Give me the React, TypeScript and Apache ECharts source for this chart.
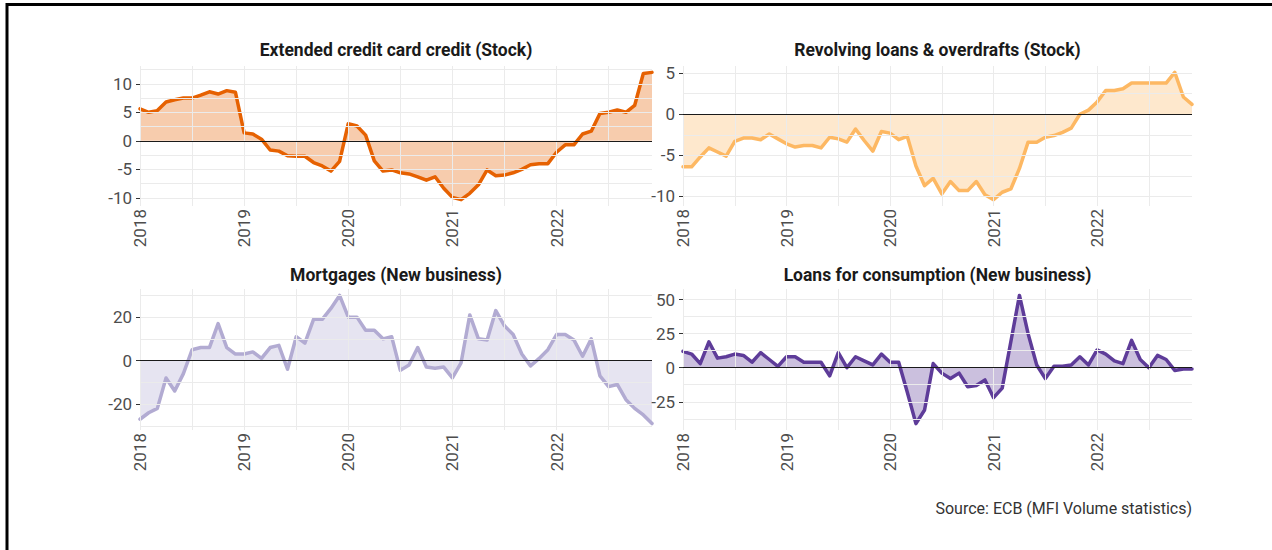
import React, { useEffect, useRef } from "react";
import * as echarts from "echarts";

// Monthly observations, Jan 2018 .. Dec 2022 (index 0 = Jan 2018)
const yearTicks = [0, 12, 24, 36, 48];
const yearLabels = ["2018", "2019", "2020", "2021", "2022"];
const halfYearLines = [6, 18, 30, 42, 54];

const creditCard = [
  5.6, 5.0, 5.3, 6.8, 7.2, 7.5, 7.5, 8.0, 8.6, 8.2, 8.8, 8.5,
  1.4, 1.2, 0.3, -1.6, -1.8, -2.6, -2.7, -2.7, -3.8, -4.4, -5.3, -3.6,
  3.0, 2.6, 1.0, -3.5, -5.3, -5.1, -5.6, -5.8, -6.3, -6.9, -6.3, -8.3,
  -9.9, -10.3, -9.2, -7.7, -5.1, -6.1, -6.0, -5.6, -5.0, -4.2, -4.0, -4.0,
  -2.0, -0.7, -0.7, 1.2, 1.7, 4.8, 5.0, 5.4, 5.0, 6.2, 11.8, 12.0,
];
const revolving = [
  -6.4, -6.4, -5.2, -4.1, -4.6, -5.1, -3.3, -2.9, -2.9, -3.1, -2.4, -3.0,
  -3.6, -4.0, -3.8, -3.8, -4.1, -2.8, -3.0, -3.4, -1.8, -3.2, -4.5, -2.1,
  -2.3, -3.1, -2.7, -6.3, -8.7, -7.8, -9.7, -8.2, -9.3, -9.3, -8.2, -9.8,
  -10.4, -9.5, -9.1, -6.6, -3.4, -3.4, -2.8, -2.6, -2.2, -1.7, 0.0, 0.5,
  1.5, 2.9, 2.9, 3.1, 3.8, 3.8, 3.8, 3.8, 3.8, 5.1, 2.1, 1.2,
];
const mortgages = [
  -27, -24, -22, -8, -14, -6, 5, 6, 6, 17, 6, 3,
  3, 4, 1, 6, 7, -4, 11, 8, 19, 19, 24, 30,
  20, 20, 14, 14, 10, 11, -4.5, -2, 6, -3, -3.5, -3,
  -8, -1, 21, 10, 9.5, 23, 16, 12, 3, -2.5, 1, 5,
  12, 12, 9.5, 2, 10, -7, -12, -11, -18, -22, -25, -29,
];
const consumption = [
  12, 10, 3, 19, 7, 8, 10, 9, 4, 11, 6, 1,
  8, 8, 4, 4, 4, -6, 11, 0, 8, 5, 2, 10,
  4, 4, -18, -41, -31, 3, -4, -8, -4, -14, -13, -9,
  -22, -15, 19, 53, 25, 2, -8, 1, 1, 2, 8, 2,
  13, 10, 5, 3, 20, 6, 0, 9, 6, -2, -1, -1,
];

const titles = [
  "Extended credit card credit (Stock)",
  "Revolving loans & overdrafts (Stock)",
  "Mortgages (New business)",
  "Loans for consumption (New business)",
];
const colors = ["#e66101", "#fdb863", "#b2abd2", "#5e3c99"];
const seriesList = [creditCard, revolving, mortgages, consumption];
const yMajor = [
  [-10, -5, 0, 5, 10],
  [-10, -5, 0, 5],
  [-20, 0, 20],
  [-25, 0, 25, 50],
];
const yMinor = [
  [-7.5, -2.5, 2.5, 7.5, 12.5],
  [-7.5, -2.5, 2.5],
  [-30, -10, 10, 30],
  [-37.5, -12.5, 12.5, 37.5],
];
const sourceText = "Source: ECB (MFI Volume statistics)";

const FONT = "Roboto, 'Noto Sans', sans-serif";

export default function App() {
  const ref = useRef<HTMLDivElement>(null);
  useEffect(() => {
    if (!ref.current) return;
    const chart = echarts.init(ref.current, null, { renderer: "svg" });

    const grids = [
      { left: 140, top: 66, width: 512, height: 140 },
      { left: 683, top: 66, width: 509, height: 140 },
      { left: 140, top: 289, width: 512, height: 141 },
      { left: 683, top: 289, width: 509, height: 141 },
    ];

    const xAxes = grids.map((_, i) => ({
      type: "value",
      gridIndex: i,
      min: 0,
      max: 59,
      splitLine: { show: false },
      axisLine: { show: false },
      axisTick: {
        show: true,
        customValues: yearTicks,
        length: 4,
        lineStyle: { color: "#333", width: 1 },
      },
      axisLabel: {
        customValues: yearTicks,
        formatter: (v: number) => {
          const k = yearTicks.indexOf(Math.round(v));
          return k >= 0 ? yearLabels[k] : "";
        },
        rotate: 90,
        margin: 3,
        fontSize: 17,
        color: "#4d4d4d",
        fontFamily: FONT,
      },
    }));

    const yAxes = grids.map((_, i) => {
      const d = seriesList[i];
      const lo = Math.min(...d);
      const hi = Math.max(...d);
      const pad = (hi - lo) * 0.05;
      return {
        type: "value",
        gridIndex: i,
        min: lo - pad,
        max: hi + pad,
        splitLine: { show: false },
        axisLine: { show: false },
        axisTick: {
          show: true,
          customValues: yMajor[i],
          length: 4,
          lineStyle: { color: "#333", width: 1 },
        },
        axisLabel: {
          customValues: yMajor[i],
          formatter: (v: number) => String(v),
          margin: 8,
          fontSize: 17,
          color: "#4d4d4d",
          fontFamily: FONT,
        },
      };
    });

    const series: any[] = [];
    grids.forEach((_, i) => {
      const hLines = [...yMajor[i], ...yMinor[i]].filter((v) => v !== 0);
      series.push({
        type: "line",
        xAxisIndex: i,
        yAxisIndex: i,
        data: [],
        z: 1,
        silent: true,
        markLine: {
          silent: true,
          symbol: ["none", "none"],
          label: { show: false },
          lineStyle: { color: "#ebebeb", width: 1, type: "solid" },
          data: [
            ...yearTicks.map((x) => ({ xAxis: x })),
            ...halfYearLines.map((x) => ({ xAxis: x })),
            ...hLines.map((y) => ({ yAxis: y })),
          ],
        },
      });
      series.push({
        type: "line",
        xAxisIndex: i,
        yAxisIndex: i,
        data: seriesList[i].map((v, k) => [k, v]),
        showSymbol: false,
        symbol: "none",
        z: 3,
        lineStyle: { color: colors[i], width: 3.5, cap: "round", join: "round" },
        areaStyle: { color: colors[i], opacity: 0.32 },
        markLine: {
          silent: true,
          symbol: ["none", "none"],
          label: { show: false },
          lineStyle: { color: "#1a1a1a", width: 1, type: "solid" },
          data: [{ yAxis: 0 }],
        },
      });
    });

    const titleGraphics = grids.map((g, i) => ({
      type: "text",
      x: g.left + g.width / 2,
      y: i < 2 ? 50 : 275,
      style: {
        text: titles[i],
        fontSize: 17.5,
        fontWeight: "bold",
        fontFamily: FONT,
        fill: "#1a1a1a",
        align: "center",
        verticalAlign: "middle",
      },
    }));

    chart.setOption({
      animation: false,
      backgroundColor: "#ffffff",
      grid: grids,
      xAxis: xAxes,
      yAxis: yAxes,
      series,
      graphic: [
        {
          type: "rect",
          shape: { x: 7, y: 4.5, width: 1320, height: 620 },
          style: { fill: "none", stroke: "#000", lineWidth: 3 },
          silent: true,
        },
        ...titleGraphics,
        {
          type: "text",
          x: 1192,
          y: 508,
          style: {
            text: sourceText,
            fontSize: 16,
            fontFamily: FONT,
            fill: "#333333",
            align: "right",
            verticalAlign: "middle",
          },
        },
      ],
    });
    return () => chart.dispose();
  }, []);
  return (
    <div
      ref={ref}
      style={{ position: "absolute", left: 0, top: 0, width: 1272, height: 550, background: "#fff" }}
    />
  );
}
